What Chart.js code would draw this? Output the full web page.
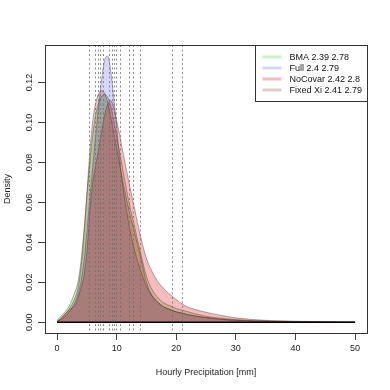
<!DOCTYPE html>
<html>
<head>
<meta charset="utf-8">
<script src="https://cdn.jsdelivr.net/npm/chart.js@4.4.1/dist/chart.umd.min.js"></script>
<style>
html, body { margin: 0; padding: 0; background: #fff; }
</style>
</head>
<body>
<canvas id="myChart" width="390" height="390"></canvas>
<script>
// density estimates, x = hourly precipitation [mm]
const x_grid = [0, 0.5, 1, 2, 3, 3.5, 4, 4.5, 5, 5.5, 6, 6.5, 7, 7.5, 8, 8.5, 9, 9.5, 10, 10.5, 11, 12, 13, 14, 15, 16, 17, 18, 19, 20, 21, 22, 24, 26, 28, 30, 33, 36, 40, 45, 50]

const bma_density = [0.001, 0.0025, 0.004, 0.008, 0.015, 0.020, 0.030, 0.045, 0.063, 0.080, 0.094, 0.104, 0.110, 0.113, 0.114, 0.1125, 0.108, 0.101, 0.093, 0.085, 0.077, 0.061, 0.048, 0.035, 0.023, 0.016, 0.012, 0.0095, 0.0082, 0.0068, 0.006, 0.0052, 0.0036, 0.0025, 0.0018, 0.0013, 0.0008, 0.0005, 0.0003, 0.0001, 0.0]
const full_density = [0.0003, 0.001, 0.002, 0.005, 0.010, 0.014, 0.020, 0.030, 0.045, 0.062, 0.078, 0.094, 0.109, 0.122, 0.1315, 0.1332, 0.126, 0.113, 0.098, 0.082, 0.069, 0.050, 0.036, 0.026, 0.018, 0.013, 0.0095, 0.0075, 0.0062, 0.0052, 0.0045, 0.0038, 0.0027, 0.0019, 0.0013, 0.0009, 0.0005, 0.0003, 0.0002, 0.0001, 0.0]
const nocovar_density = [0.0005, 0.0015, 0.003, 0.006, 0.0085, 0.012, 0.017, 0.023, 0.035, 0.055, 0.070, 0.079, 0.087, 0.096, 0.104, 0.109, 0.111, 0.108, 0.101, 0.094, 0.086, 0.071, 0.057, 0.043, 0.032, 0.025, 0.020, 0.0165, 0.0137, 0.0113, 0.0091, 0.0075, 0.0057, 0.0043, 0.0031, 0.0022, 0.0013, 0.0008, 0.0005, 0.0002, 0.0001]
const fixedxi_density = [0.0005, 0.0012, 0.003, 0.0065, 0.012, 0.017, 0.027, 0.043, 0.064, 0.085, 0.101, 0.110, 0.1145, 0.116, 0.1145, 0.110, 0.103, 0.095, 0.087, 0.079, 0.071, 0.057, 0.045, 0.033, 0.020, 0.013, 0.0098, 0.0075, 0.0064, 0.0052, 0.0045, 0.0038, 0.0027, 0.002, 0.0014, 0.001, 0.0006, 0.0004, 0.0002, 0.0001, 0.0]

const series_names = ['BMA', 'Full', 'NoCovar', 'Fixed Xi']
const series_scores = ['2.39 2.78', '2.4 2.79', '2.42 2.8', '2.41 2.79']

// dotted verticals
const quantile_lines = [5.33, 6.39, 6.79, 7.13, 7.73, 8.74, 9.25, 9.48, 9.82, 10.49, 12.0, 12.73, 13.9, 19.33, 20.9]

const x_ticks = [0, 10, 20, 30, 40, 50]
const y_ticks = [0, 0.02, 0.04, 0.06, 0.08, 0.10, 0.12]
const y_tick_labels = ['0.00', '0.02', '0.04', '0.06', '0.08', '0.10', '0.12']

const fill_colors = ['rgba(0, 190, 0, 0.22)', 'rgba(0, 0, 255, 0.16)', 'rgba(210, 0, 0, 0.26)', 'rgba(140, 40, 20, 0.24)']
const FONT = '"Liberation Sans", Arial, sans-serif'

const all_density = [bma_density, full_density, nocovar_density, fixedxi_density]

const r_style = {
    id: 'r_style',
    afterDatasetsDraw(chart) {
        const {ctx, chartArea: a, scales: {x}} = chart
        ctx.save()
        ctx.strokeStyle = 'rgba(110, 110, 110, 0.8)'
        ctx.lineWidth = 1
        ctx.setLineDash([2, 2.5])
        for (let q of quantile_lines) {
            let px = Math.round(x.getPixelForValue(q)) + 0.5
            ctx.beginPath()
            ctx.moveTo(px, a.top)
            ctx.lineTo(px, a.bottom)
            ctx.stroke()
        }
        ctx.restore()
    },
    afterDraw(chart) {
        const {ctx, chartArea: a, scales: {y}} = chart
        ctx.save()
        // plot box
        ctx.strokeStyle = '#333'
        ctx.lineWidth = 1
        ctx.strokeRect(Math.round(a.left) + 0.5, Math.round(a.top) + 0.5, Math.round(a.right - a.left), Math.round(a.bottom - a.top))

        // y tick labels, parallel to the axis like R
        ctx.fillStyle = '#222'
        ctx.font = `9px ${FONT}`
        ctx.textAlign = 'center'
        ctx.textBaseline = 'middle'
        y_ticks.forEach((v, i) => {
            ctx.save()
            ctx.translate(30, y.getPixelForValue(v))
            ctx.rotate(-Math.PI / 2)
            ctx.fillText(y_tick_labels[i], 0, 0)
            ctx.restore()
        })
        ctx.save()
        ctx.translate(8, (a.top + a.bottom) / 2)
        ctx.rotate(-Math.PI / 2)
        ctx.fillText('Density', 0, 0)
        ctx.restore()

        // legend
        let lw = 112, lh = 56
        let lx = Math.round(a.right - lw) + 0.5, ly = Math.round(a.top) + 0.5
        ctx.fillStyle = '#fff'
        ctx.fillRect(lx, ly, lw, lh)
        ctx.strokeStyle = '#333'
        ctx.strokeRect(lx, ly, lw, lh)
        ctx.textAlign = 'left'
        series_names.forEach((name, i) => {
            let ry = ly + 11.5 + i * 11
            ctx.strokeStyle = fill_colors[i]
            ctx.lineWidth = 3
            ctx.beginPath()
            ctx.moveTo(lx + 7, ry)
            ctx.lineTo(lx + 26, ry)
            ctx.stroke()
            ctx.fillStyle = '#111'
            ctx.fillText(`${name} ${series_scores[i]}`, lx + 34, ry + 0.5)
        })
        ctx.restore()
    }
}

let datasets = series_names.map((name, i) => {
    return {
        label: `${name} ${series_scores[i]}`,
        data: x_grid.map((xv, j) => ({x: xv, y: all_density[i][j]})),
        backgroundColor: fill_colors[i],
        borderColor: 'rgba(60, 40, 40, 0.4)',
        borderWidth: 1,
        fill: 'origin',
        pointRadius: 0,
        cubicInterpolationMode: 'monotone',
        order: 4 - i
    }
})
// polygon bottom edges
datasets.push({
    label: 'base',
    data: [{x: x_grid[0], y: 0}, {x: x_grid[x_grid.length - 1], y: 0}],
    borderColor: '#000',
    borderWidth: 1.5,
    pointRadius: 0,
    fill: false,
    order: 0
})

const config = {
    type: 'line',
    data: { datasets: datasets },
    options: {
        responsive: false,
        animation: false,
        layout: {
            padding: { left: 0, top: 45, right: 23, bottom: 0 }
        },
        plugins: {
            legend: { display: false },
            tooltip: { enabled: false }
        },
        scales: {
            x: {
                type: 'linear',
                min: -2.02,
                max: 52.0,
                afterBuildTicks: (s) => { s.ticks = x_ticks.map(v => ({value: v})) },
                afterFit: (s) => { s.height = 57 },
                border: { display: false },
                grid: { drawOnChartArea: false, tickLength: 7, color: '#444', tickWidth: 1 },
                ticks: {
                    font: { family: FONT, size: 9 },
                    color: '#222',
                    padding: 3,
                    maxRotation: 0,
                    autoSkip: false
                },
                title: {
                    display: true,
                    text: 'Hourly Precipitation [mm]',
                    font: { family: FONT, size: 9 },
                    color: '#222',
                    padding: { top: 4, bottom: 12 }
                }
            },
            y: {
                type: 'linear',
                min: -0.0054,
                max: 0.1388,
                afterBuildTicks: (s) => { s.ticks = y_ticks.map(v => ({value: v})) },
                afterFit: (s) => { s.width = 45 },
                border: { display: false },
                grid: { drawOnChartArea: false, tickLength: 7, color: '#444', tickWidth: 1 },
                ticks: { display: false }
            }
        }
    },
    plugins: [r_style]
}

new Chart(document.querySelector('#myChart').getContext('2d'), config)
</script>
</body>
</html>
